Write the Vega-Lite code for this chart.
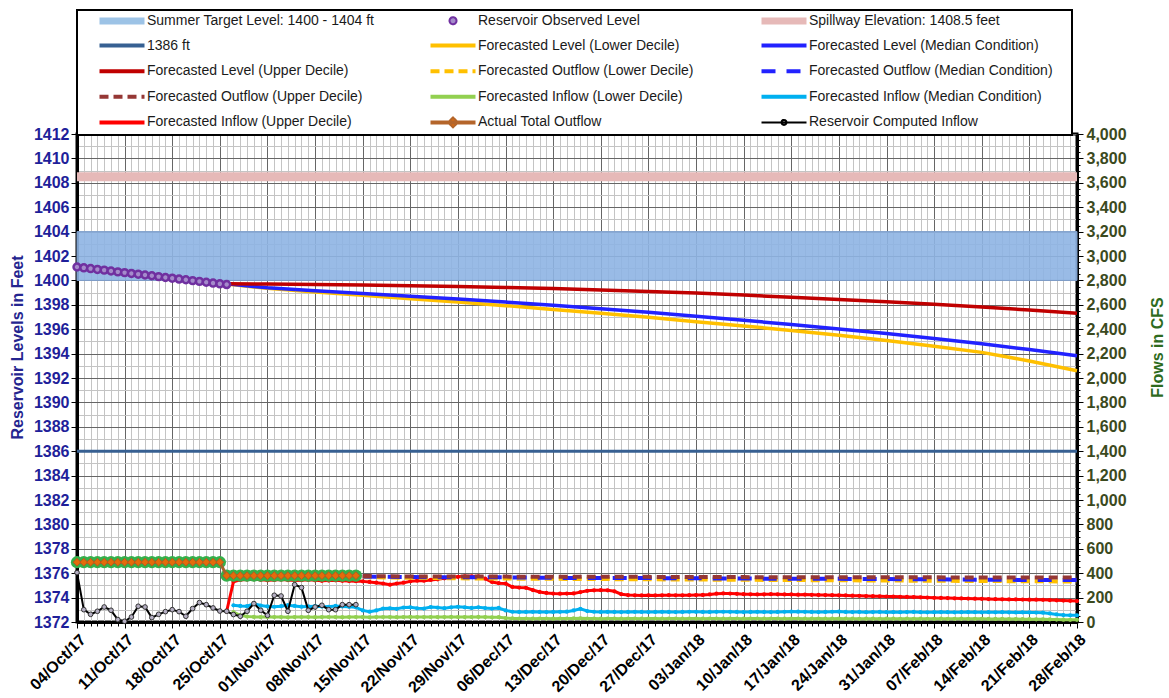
{
  "$schema": "https://vega.github.io/schema/vega-lite/v6.json",
  "width": 1000,
  "height": 488,
  "autosize": {"type": "none"},
  "padding": {"left": 77, "top": 134, "right": 92, "bottom": 76},
  "background": "white",
  "config": {
    "font": "Liberation Sans",
    "view": {"stroke": "#000000", "strokeWidth": 3},
    "axis": {"labelFont": "Liberation Sans", "titleFont": "Liberation Sans"}
  },
  "datasets": {
    "daily": [
      {"d": "2017-10-04", "obs": 1401.10, "ao": 490, "ci": 405},
      {"d": "2017-10-05", "obs": 1401.03, "ao": 490, "ci": 101},
      {"d": "2017-10-06", "obs": 1400.97, "ao": 490, "ci": 63},
      {"d": "2017-10-07", "obs": 1400.90, "ao": 490, "ci": 88},
      {"d": "2017-10-08", "obs": 1400.84, "ao": 490, "ci": 123},
      {"d": "2017-10-09", "obs": 1400.77, "ao": 490, "ci": 96},
      {"d": "2017-10-10", "obs": 1400.70, "ao": 490, "ci": 20},
      {"d": "2017-10-11", "obs": 1400.64, "ao": 490, "ci": 6},
      {"d": "2017-10-12", "obs": 1400.57, "ao": 490, "ci": 41},
      {"d": "2017-10-13", "obs": 1400.51, "ao": 490, "ci": 129},
      {"d": "2017-10-14", "obs": 1400.44, "ao": 490, "ci": 123},
      {"d": "2017-10-15", "obs": 1400.38, "ao": 490, "ci": 36},
      {"d": "2017-10-16", "obs": 1400.31, "ao": 490, "ci": 63},
      {"d": "2017-10-17", "obs": 1400.24, "ao": 490, "ci": 85},
      {"d": "2017-10-18", "obs": 1400.18, "ao": 490, "ci": 101},
      {"d": "2017-10-19", "obs": 1400.11, "ao": 490, "ci": 85},
      {"d": "2017-10-20", "obs": 1400.05, "ao": 490, "ci": 47},
      {"d": "2017-10-21", "obs": 1399.98, "ao": 490, "ci": 110},
      {"d": "2017-10-22", "obs": 1399.92, "ao": 490, "ci": 159},
      {"d": "2017-10-23", "obs": 1399.85, "ao": 490, "ci": 142},
      {"d": "2017-10-24", "obs": 1399.78, "ao": 490, "ci": 115},
      {"d": "2017-10-25", "obs": 1399.72, "ao": 490, "ci": 90},
      {"d": "2017-10-26", "obs": 1399.66, "ao": 380, "ci": 88, "iu": 88, "lu": 1399.72, "lm": 1399.72, "ll": 1399.70},
      {"d": "2017-10-27", "ao": 380, "ci": 61, "iu": 330, "im": 137, "il": 80},
      {"d": "2017-10-28", "ao": 380, "ci": 47, "iu": 345, "im": 132, "il": 55},
      {"d": "2017-10-29", "ao": 380, "ci": 88, "iu": 348, "im": 130, "il": 45},
      {"d": "2017-10-30", "ao": 380, "ci": 151, "iu": 350, "im": 150, "il": 42},
      {"d": "2017-10-31", "ao": 380, "ci": 96, "iu": 346, "im": 135, "il": 40},
      {"d": "2017-11-01", "ao": 380, "ci": 55, "iu": 342, "im": 128, "il": 40, "lu": 1399.70, "lm": 1399.40, "ll": 1399.35},
      {"d": "2017-11-02", "ao": 380, "ci": 219, "iu": 345, "im": 125, "il": 41},
      {"d": "2017-11-03", "ao": 380, "ci": 213, "iu": 348, "im": 130, "il": 40},
      {"d": "2017-11-04", "ao": 380, "ci": 88, "iu": 344, "im": 138, "il": 38},
      {"d": "2017-11-05", "ao": 380, "ci": 306, "iu": 340, "im": 132, "il": 40},
      {"d": "2017-11-06", "ao": 380, "ci": 282, "iu": 343, "im": 126, "il": 41},
      {"d": "2017-11-07", "ao": 380, "ci": 96, "iu": 346, "im": 128, "il": 40},
      {"d": "2017-11-08", "ao": 380, "ci": 123, "iu": 342, "im": 130, "il": 39, "lu": 1399.66, "lm": 1399.15, "ll": 1399.05},
      {"d": "2017-11-09", "ao": 380, "ci": 137, "iu": 338, "im": 127, "il": 40},
      {"d": "2017-11-10", "ao": 380, "ci": 101, "iu": 340, "im": 125, "il": 41},
      {"d": "2017-11-11", "ao": 380, "ci": 101, "iu": 342, "im": 132, "il": 40},
      {"d": "2017-11-12", "ao": 380, "ci": 142, "iu": 338, "im": 128, "il": 39},
      {"d": "2017-11-13", "ao": 380, "ci": 142, "iu": 336, "im": 124, "il": 40},
      {"d": "2017-11-14", "ao": 380, "ci": 142, "iu": 335, "im": 120, "il": 41},
      {"d": "2017-11-15", "iu": 333, "im": 95, "il": 40, "lu": 1399.62, "lm": 1398.92, "ll": 1398.78, "ou": 377, "om": 372, "ol": 368},
      {"d": "2017-11-16", "iu": 328, "im": 85, "il": 38},
      {"d": "2017-11-17", "iu": 322, "im": 95, "il": 40},
      {"d": "2017-11-18", "iu": 315, "im": 110, "il": 41},
      {"d": "2017-11-19", "iu": 306, "im": 112, "il": 40},
      {"d": "2017-11-20", "iu": 315, "im": 108, "il": 39},
      {"d": "2017-11-21", "iu": 322, "im": 118, "il": 41},
      {"d": "2017-11-22", "iu": 333, "im": 120, "il": 42, "lu": 1399.56, "lm": 1398.70, "ll": 1398.50, "ou": 372, "om": 368, "ol": 362},
      {"d": "2017-11-23", "iu": 339, "im": 112, "il": 40},
      {"d": "2017-11-24", "iu": 339, "im": 110, "il": 40},
      {"d": "2017-11-25", "iu": 345, "im": 122, "il": 41},
      {"d": "2017-11-26", "iu": 350, "im": 118, "il": 40},
      {"d": "2017-11-27", "iu": 358, "im": 113, "il": 41},
      {"d": "2017-11-28", "iu": 366, "im": 120, "il": 42},
      {"d": "2017-11-29", "iu": 370, "im": 125, "il": 41, "lu": 1399.50, "lm": 1398.47, "ll": 1398.22, "ou": 372, "om": 366, "ol": 358},
      {"d": "2017-11-30", "iu": 374, "im": 120, "il": 40},
      {"d": "2017-12-01", "iu": 375, "im": 115, "il": 41},
      {"d": "2017-12-02", "iu": 373, "im": 120, "il": 42},
      {"d": "2017-12-03", "iu": 355, "im": 114, "il": 40},
      {"d": "2017-12-04", "iu": 328, "im": 110, "il": 38},
      {"d": "2017-12-05", "iu": 318, "im": 115, "il": 39},
      {"d": "2017-12-06", "iu": 315, "im": 95, "il": 32, "lu": 1399.42, "lm": 1398.22, "ll": 1397.93, "ou": 372, "om": 366, "ol": 356},
      {"d": "2017-12-07", "iu": 287, "im": 84, "il": 29},
      {"d": "2017-12-08", "iu": 282, "im": 82, "il": 28},
      {"d": "2017-12-09", "iu": 280, "im": 82, "il": 28},
      {"d": "2017-12-10", "iu": 262, "im": 83, "il": 27},
      {"d": "2017-12-11", "iu": 246, "im": 82, "il": 28},
      {"d": "2017-12-12", "iu": 238, "im": 81, "il": 28},
      {"d": "2017-12-13", "iu": 233, "im": 82, "il": 27, "lu": 1399.33, "lm": 1397.96, "ll": 1397.62, "ou": 370, "om": 362, "ol": 354},
      {"d": "2017-12-14", "iu": 232, "im": 83, "il": 28},
      {"d": "2017-12-15", "iu": 233, "im": 85, "il": 28},
      {"d": "2017-12-16", "iu": 234, "im": 95, "il": 29},
      {"d": "2017-12-17", "iu": 245, "im": 108, "il": 30},
      {"d": "2017-12-18", "iu": 256, "im": 90, "il": 28},
      {"d": "2017-12-19", "iu": 260, "im": 84, "il": 28},
      {"d": "2017-12-20", "iu": 261, "im": 82, "il": 27, "lu": 1399.22, "lm": 1397.68, "ll": 1397.30, "ou": 370, "om": 360, "ol": 352},
      {"d": "2017-12-21", "iu": 260, "im": 83, "il": 28},
      {"d": "2017-12-22", "iu": 252, "im": 82, "il": 28},
      {"d": "2017-12-23", "iu": 228, "im": 81, "il": 27},
      {"d": "2017-12-24", "iu": 221, "im": 82, "il": 28},
      {"d": "2017-12-25", "iu": 219, "im": 83, "il": 28},
      {"d": "2017-12-26", "iu": 218, "im": 82, "il": 27},
      {"d": "2017-12-27", "iu": 219, "im": 81, "il": 28, "lu": 1399.10, "lm": 1397.38, "ll": 1396.97, "ou": 370, "om": 360, "ol": 350},
      {"d": "2017-12-28", "iu": 218, "im": 82, "il": 28},
      {"d": "2017-12-29", "iu": 219, "im": 83, "il": 27},
      {"d": "2017-12-30", "iu": 220, "im": 82, "il": 28},
      {"d": "2017-12-31", "iu": 219, "im": 81, "il": 28},
      {"d": "2018-01-01", "iu": 219, "im": 82, "il": 27},
      {"d": "2018-01-02", "iu": 220, "im": 84, "il": 28},
      {"d": "2018-01-03", "iu": 221, "im": 83, "il": 28, "lu": 1398.96, "lm": 1397.06, "ll": 1396.62, "ou": 368, "om": 358, "ol": 348},
      {"d": "2018-01-04", "iu": 222, "im": 82, "il": 27},
      {"d": "2018-01-05", "iu": 226, "im": 82, "il": 28},
      {"d": "2018-01-06", "iu": 232, "im": 83, "il": 28},
      {"d": "2018-01-07", "iu": 234, "im": 84, "il": 27},
      {"d": "2018-01-08", "iu": 233, "im": 83, "il": 28},
      {"d": "2018-01-09", "iu": 231, "im": 82, "il": 28},
      {"d": "2018-01-10", "iu": 228, "im": 81, "il": 27, "lu": 1398.80, "lm": 1396.73, "ll": 1396.27, "ou": 368, "om": 356, "ol": 346},
      {"d": "2018-01-11", "iu": 227, "im": 82, "il": 28},
      {"d": "2018-01-12", "iu": 226, "im": 83, "il": 28},
      {"d": "2018-01-13", "iu": 227, "im": 82, "il": 27},
      {"d": "2018-01-14", "iu": 228, "im": 81, "il": 28},
      {"d": "2018-01-15", "iu": 227, "im": 82, "il": 28},
      {"d": "2018-01-16", "iu": 226, "im": 84, "il": 27},
      {"d": "2018-01-17", "iu": 226, "im": 86, "il": 28, "lu": 1398.62, "lm": 1396.38, "ll": 1395.90, "ou": 366, "om": 354, "ol": 344},
      {"d": "2018-01-18", "iu": 224, "im": 85, "il": 28},
      {"d": "2018-01-19", "iu": 225, "im": 83, "il": 27},
      {"d": "2018-01-20", "iu": 223, "im": 82, "il": 27},
      {"d": "2018-01-21", "iu": 222, "im": 81, "il": 28},
      {"d": "2018-01-22", "iu": 221, "im": 82, "il": 27},
      {"d": "2018-01-23", "iu": 220, "im": 84, "il": 27},
      {"d": "2018-01-24", "iu": 219, "im": 86, "il": 28, "lu": 1398.44, "lm": 1396.02, "ll": 1395.50, "ou": 366, "om": 354, "ol": 342},
      {"d": "2018-01-25", "iu": 218, "im": 82, "il": 27},
      {"d": "2018-01-26", "iu": 216, "im": 81, "il": 27},
      {"d": "2018-01-27", "iu": 215, "im": 82, "il": 26},
      {"d": "2018-01-28", "iu": 213, "im": 80, "il": 27},
      {"d": "2018-01-29", "iu": 212, "im": 81, "il": 27},
      {"d": "2018-01-30", "iu": 211, "im": 82, "il": 26},
      {"d": "2018-01-31", "iu": 209, "im": 80, "il": 27, "lu": 1398.25, "lm": 1395.64, "ll": 1395.08, "ou": 366, "om": 352, "ol": 340},
      {"d": "2018-02-01", "iu": 208, "im": 81, "il": 27},
      {"d": "2018-02-02", "iu": 206, "im": 80, "il": 26},
      {"d": "2018-02-03", "iu": 205, "im": 81, "il": 27},
      {"d": "2018-02-04", "iu": 204, "im": 82, "il": 26},
      {"d": "2018-02-05", "iu": 202, "im": 80, "il": 27},
      {"d": "2018-02-06", "iu": 200, "im": 79, "il": 26},
      {"d": "2018-02-07", "iu": 198, "im": 80, "il": 26, "lu": 1398.04, "lm": 1395.24, "ll": 1394.60, "ou": 366, "om": 350, "ol": 338},
      {"d": "2018-02-08", "iu": 197, "im": 81, "il": 27},
      {"d": "2018-02-09", "iu": 196, "im": 80, "il": 26},
      {"d": "2018-02-10", "iu": 194, "im": 79, "il": 26},
      {"d": "2018-02-11", "iu": 193, "im": 80, "il": 27},
      {"d": "2018-02-12", "iu": 192, "im": 81, "il": 26},
      {"d": "2018-02-13", "iu": 191, "im": 80, "il": 26},
      {"d": "2018-02-14", "iu": 190, "im": 79, "il": 26, "lu": 1397.81, "lm": 1394.80, "ll": 1394.10, "ou": 365, "om": 346, "ol": 336},
      {"d": "2018-02-15", "iu": 188, "im": 80, "il": 25},
      {"d": "2018-02-16", "iu": 187, "im": 79, "il": 25},
      {"d": "2018-02-17", "iu": 186, "im": 80, "il": 25},
      {"d": "2018-02-18", "iu": 185, "im": 79, "il": 24},
      {"d": "2018-02-19", "iu": 185, "im": 78, "il": 24},
      {"d": "2018-02-20", "iu": 184, "im": 79, "il": 23},
      {"d": "2018-02-21", "iu": 183, "im": 78, "il": 23, "lu": 1397.57, "lm": 1394.33, "ll": 1393.40, "ou": 365, "om": 345, "ol": 334},
      {"d": "2018-02-22", "iu": 183, "im": 77, "il": 22},
      {"d": "2018-02-23", "iu": 182, "im": 76, "il": 22},
      {"d": "2018-02-24", "iu": 180, "im": 70, "il": 21},
      {"d": "2018-02-25", "iu": 178, "im": 62, "il": 20},
      {"d": "2018-02-26", "iu": 176, "im": 57, "il": 19},
      {"d": "2018-02-27", "iu": 174, "im": 55, "il": 18},
      {"d": "2018-02-28", "iu": 172, "im": 55, "il": 18, "lu": 1397.30, "lm": 1393.82, "ll": 1392.60, "ou": 365, "om": 344, "ol": 332}
    ]
  },
  "resolve": {"scale": {"y": "independent"}, "axis": {"y": "independent"}},
  "layer": [
    {
      "layer": [
        {
          "data": {"values": [{"start": "2017-10-04", "end": "2018-02-28", "lo": 1400, "hi": 1404}]},
          "mark": {"type": "rect", "fill": "#8EB4E3", "fillOpacity": 0.9, "stroke": "#7F9FCC", "strokeWidth": 1},
          "encoding": {
            "x": {"field": "start", "type": "temporal"},
            "x2": {"field": "end"},
            "y": {
              "field": "lo",
              "type": "quantitative",
              "scale": {"domain": [1372, 1412], "nice": false, "zero": false},
              "axis": {
                "orient": "left",
                "title": "Reservoir Levels in Feet",
                "tickCount": 80,
                "format": "d",
                "labelExpr": "datum.value % 2 === 0 ? datum.label : ''",
                "labelOverlap": false,
                "labelFlush": false,
                "labelFontWeight": "bold",
                "labelFontSize": 16,
                "labelColor": "#1F1F9A",
                "labelPadding": 2,
                "tickColor": "#000000",
                "tickSize": {"condition": {"test": "datum.value % 2 === 0", "value": 6}, "value": 0},
                "grid": true,
                "gridColor": {"condition": {"test": "datum.value % 2 === 0", "value": "#666666"}, "value": "#C4C4C4"},
                "gridWidth": 1,
                "domainColor": "#000000",
                "domainWidth": 3,
                "titleFontSize": 16,
                "titleFontWeight": "bold",
                "titleColor": "#25258F",
                "titleAngle": 270,
                "titleBaseline": "middle",
                "titleX": -60,
                "titleY": 213
              }
            },
            "y2": {"field": "hi"}
          }
        },
        {
          "data": {"values": [{"lvl": 1408.5}]},
          "mark": {"type": "rule", "strokeWidth": 9},
          "encoding": {
            "y": {"field": "lvl", "type": "quantitative"},
            "color": {
              "datum": "Spillway Elevation: 1408.5 feet",
              "scale": {
                "domain": [
                  "Summer Target Level: 1400 - 1404 ft",
                  "Reservoir Observed Level",
                  "Spillway Elevation: 1408.5 feet",
                  "1386 ft",
                  "Forecasted Level (Lower Decile)",
                  "Forecasted Level (Median Condition)",
                  "Forecasted Level (Upper Decile)",
                  "Forecasted Outflow (Lower Decile)",
                  "Forecasted Outflow (Median Condition)",
                  "Forecasted Outflow (Upper Decile)",
                  "Forecasted Inflow (Lower Decile)",
                  "Forecasted Inflow (Median Condition)",
                  "Forecasted Inflow (Upper Decile)",
                  "Actual Total Outflow",
                  "Reservoir Computed Inflow"
                ],
                "range": ["#9DC3E6", "#7030A0", "#E6B9B8", "#376092", "#FFC000", "#2222FF", "#C00000", "#FFC000", "#2222FF", "#953735", "#92D050", "#00B0F0", "#FF0000", "#B4652A", "#000000"]
              },
              "legend": {
                "orient": "none",
                "legendX": 0,
                "legendY": -124,
                "direction": "horizontal",
                "title": " ",
                "titleOrient": "right",
                "titlePadding": 16,
                "titleFontSize": 14,
                "columns": 3,
                "gridAlign": "all",
                "symbolType": {"expr": "datum.value === 'Summer Target Level: 1400 - 1404 ft' || datum.value === 'Spillway Elevation: 1408.5 feet' ? 'M-4.5,-0.5H4.5M-4.5,-0.25H4.5M-4.5,0H4.5M-4.5,0.25H4.5M-4.5,0.5H4.5' : datum.value === 'Reservoir Observed Level' ? 'M-0.7,0A0.7,0.7,0,1,1,0.7,0A0.7,0.7,0,1,1,-0.7,0Z' : datum.value === 'Actual Total Outflow' ? 'M-4.5,-0.2H4.5M-4.5,0.2H4.5M0,-1L1,0L0,1L-1,0Z' : datum.value === 'Reservoir Computed Inflow' ? 'M-4.5,0H4.5M-0.5,0A0.5,0.5,0,1,1,0.5,0A0.5,0.5,0,1,1,-0.5,0Z' : 'M-4.5,-0.2H4.5M-4.5,0.2H4.5'"},
                "symbolDash": {"expr": "datum.value === 'Forecasted Outflow (Median Condition)' ? [14, 11] : indexof(datum.value, 'Outflow (') >= 0 ? [9, 5] : [1, 0]"},
                "symbolFillColor": {"expr": "datum.value === 'Reservoir Observed Level' ? '#A58BCB' : datum.value === 'Actual Total Outflow' ? '#E46C0A' : datum.value === 'Reservoir Computed Inflow' ? '#BFBFBF' : 'transparent'"},
                "symbolSize": 100,
                "symbolStrokeWidth": 2,
                "symbolOffset": 35,
                "labelFont": "Liberation Sans",
                "labelFontSize": 14,
                "labelColor": "#1A1A1A",
                "labelLimit": 400,
                "labelOffset": 18,
                "rowPadding": 7.6,
                "columnPadding": 20,
                "padding": 3,
                "strokeColor": "#000000",
                "fillColor": "#FFFFFF",
                "encode": {"legend": {"update": {"strokeWidth": {"value": 2}}}}
              }
            }
          }
        },
        {
          "data": {"values": [{"lvl": 1386}]},
          "mark": {"type": "rule", "color": "#376092", "strokeWidth": 3},
          "encoding": {"y": {"field": "lvl", "type": "quantitative"}}
        },
        {
          "data": {"name": "daily"},
          "transform": [{"filter": "isValid(datum.ll)"}],
          "mark": {"type": "line", "color": "#FFC000", "strokeWidth": 3.5},
          "encoding": {
            "x": {
              "field": "d",
              "type": "temporal",
              "scale": {"type": "utc", "domain": [{"year": 2017, "month": 10, "date": 4, "utc": true}, {"year": 2018, "month": 2, "date": 28, "utc": true}]},
              "axis": {
                "orient": "bottom",
                "title": null,
                "format": "%d/%b/%y",
                "tickCount": {"interval": "day", "step": 1},
                "labelExpr": "(datum.value - 1507075200000) % 604800000 === 0 ? datum.label : ''",
                "labelAngle": -45,
                "labelOverlap": false,
                "labelFlush": false,
                "labelFontWeight": "bold",
                "labelFontSize": 16,
                "labelColor": "#000000",
                "labelPadding": 3,
                "tickColor": "#000000",
                "tickSize": {"condition": {"test": "(datum.value - 1507075200000) % 604800000 === 0", "value": 6}, "value": 4},
                "grid": true,
                "gridColor": {"condition": {"test": "(datum.value - 1507075200000) % 604800000 === 0", "value": "#666666"}, "value": "#C4C4C4"},
                "gridWidth": 1,
                "domainColor": "#000000",
                "domainWidth": 3
              }
            },
            "y": {"field": "ll", "type": "quantitative"}
          }
        },
        {
          "data": {"name": "daily"},
          "transform": [{"filter": "isValid(datum.lm)"}],
          "mark": {"type": "line", "color": "#2222FF", "strokeWidth": 3.5},
          "encoding": {
            "x": {"field": "d", "type": "temporal"},
            "y": {"field": "lm", "type": "quantitative"}
          }
        },
        {
          "data": {"name": "daily"},
          "transform": [{"filter": "isValid(datum.lu)"}],
          "mark": {"type": "line", "color": "#C00000", "strokeWidth": 3.5},
          "encoding": {
            "x": {"field": "d", "type": "temporal"},
            "y": {"field": "lu", "type": "quantitative"}
          }
        },
        {
          "data": {"name": "daily"},
          "transform": [{"filter": "isValid(datum.obs)"}],
          "mark": {"type": "point", "shape": "circle", "filled": true, "size": 48, "fill": "#A58BCB", "stroke": "#7030A0", "strokeWidth": 2.5, "opacity": 1},
          "encoding": {
            "x": {"field": "d", "type": "temporal"},
            "y": {"field": "obs", "type": "quantitative"}
          }
        }
      ]
    },
    {
      "layer": [
        {
          "data": {"name": "daily"},
          "transform": [{"filter": "isValid(datum.il)"}],
          "mark": {"type": "line", "color": "#92D050", "strokeWidth": 3, "point": {"filled": true, "size": 18, "color": "#92D050"}},
          "encoding": {
            "x": {"field": "d", "type": "temporal"},
            "y": {
              "field": "il",
              "type": "quantitative",
              "scale": {"domain": [0, 4000], "nice": false, "zero": true},
              "axis": {
                "orient": "right",
                "title": "Flows in CFS",
                "tickCount": 80,
                "format": ",d",
                "labelExpr": "datum.value % 200 === 0 ? datum.label : ''",
                "labelOverlap": false,
                "labelFlush": false,
                "labelFontWeight": "bold",
                "labelFontSize": 16,
                "labelColor": "#3B4A1E",
                "labelPadding": 3,
                "tickColor": "#000000",
                "tickSize": {"condition": {"test": "datum.value % 200 === 0", "value": 6}, "value": 3},
                "grid": false,
                "domainColor": "#000000",
                "domainWidth": 3,
                "titleFontSize": 16,
                "titleFontWeight": "bold",
                "titleColor": "#2E6B1E",
                "titleAngle": 270,
                "titleBaseline": "middle",
                "titleX": 80,
                "titleY": 213
              }
            }
          }
        },
        {
          "data": {"name": "daily"},
          "transform": [{"filter": "isValid(datum.im)"}],
          "mark": {"type": "line", "color": "#00B0F0", "strokeWidth": 3, "point": {"filled": true, "size": 18, "color": "#00B0F0"}},
          "encoding": {
            "x": {"field": "d", "type": "temporal"},
            "y": {"field": "im", "type": "quantitative"}
          }
        },
        {
          "data": {"name": "daily"},
          "transform": [{"filter": "isValid(datum.iu)"}],
          "mark": {"type": "line", "color": "#FF0000", "strokeWidth": 3, "point": {"filled": true, "size": 18, "color": "#FF0000"}},
          "encoding": {
            "x": {"field": "d", "type": "temporal"},
            "y": {"field": "iu", "type": "quantitative"}
          }
        },
        {
          "data": {"name": "daily"},
          "transform": [{"filter": "isValid(datum.ol)"}],
          "mark": {"type": "line", "color": "#FFC000", "strokeWidth": 4, "strokeDash": [9, 5]},
          "encoding": {
            "x": {"field": "d", "type": "temporal"},
            "y": {"field": "ol", "type": "quantitative"}
          }
        },
        {
          "data": {"name": "daily"},
          "transform": [{"filter": "isValid(datum.om)"}],
          "mark": {"type": "line", "color": "#2222FF", "strokeWidth": 4, "strokeDash": [14, 11]},
          "encoding": {
            "x": {"field": "d", "type": "temporal"},
            "y": {"field": "om", "type": "quantitative"}
          }
        },
        {
          "data": {"name": "daily"},
          "transform": [{"filter": "isValid(datum.ou)"}],
          "mark": {"type": "line", "color": "#953735", "strokeWidth": 4, "strokeDash": [9, 5]},
          "encoding": {
            "x": {"field": "d", "type": "temporal"},
            "y": {"field": "ou", "type": "quantitative"}
          }
        },
        {
          "data": {"name": "daily"},
          "transform": [{"filter": "isValid(datum.ao)"}],
          "mark": {"type": "point", "shape": "circle", "filled": true, "size": 150, "color": "#35B04A", "opacity": 1},
          "encoding": {
            "x": {"field": "d", "type": "temporal"},
            "y": {"field": "ao", "type": "quantitative"}
          }
        },
        {
          "data": {"name": "daily"},
          "transform": [{"filter": "isValid(datum.ao)"}],
          "mark": {"type": "line", "color": "#A5632C", "strokeWidth": 3},
          "encoding": {
            "x": {"field": "d", "type": "temporal"},
            "y": {"field": "ao", "type": "quantitative"}
          }
        },
        {
          "data": {"name": "daily"},
          "transform": [{"filter": "isValid(datum.ao)"}],
          "mark": {"type": "point", "shape": "diamond", "filled": true, "size": 60, "fill": "#E46C0A", "stroke": "#B35A1F", "strokeWidth": 1, "opacity": 1},
          "encoding": {
            "x": {"field": "d", "type": "temporal"},
            "y": {"field": "ao", "type": "quantitative"}
          }
        },
        {
          "data": {"name": "daily"},
          "transform": [{"filter": "isValid(datum.ci)"}],
          "mark": {"type": "line", "color": "#000000", "strokeWidth": 2},
          "encoding": {
            "x": {"field": "d", "type": "temporal"},
            "y": {"field": "ci", "type": "quantitative"}
          }
        },
        {
          "data": {"name": "daily"},
          "transform": [{"filter": "isValid(datum.ci)"}],
          "mark": {"type": "point", "shape": "circle", "filled": true, "size": 22, "fill": "#B4AEC2", "stroke": "#333333", "strokeWidth": 1, "opacity": 1},
          "encoding": {
            "x": {"field": "d", "type": "temporal"},
            "y": {"field": "ci", "type": "quantitative"}
          }
        }
      ]
    }
  ]
}
